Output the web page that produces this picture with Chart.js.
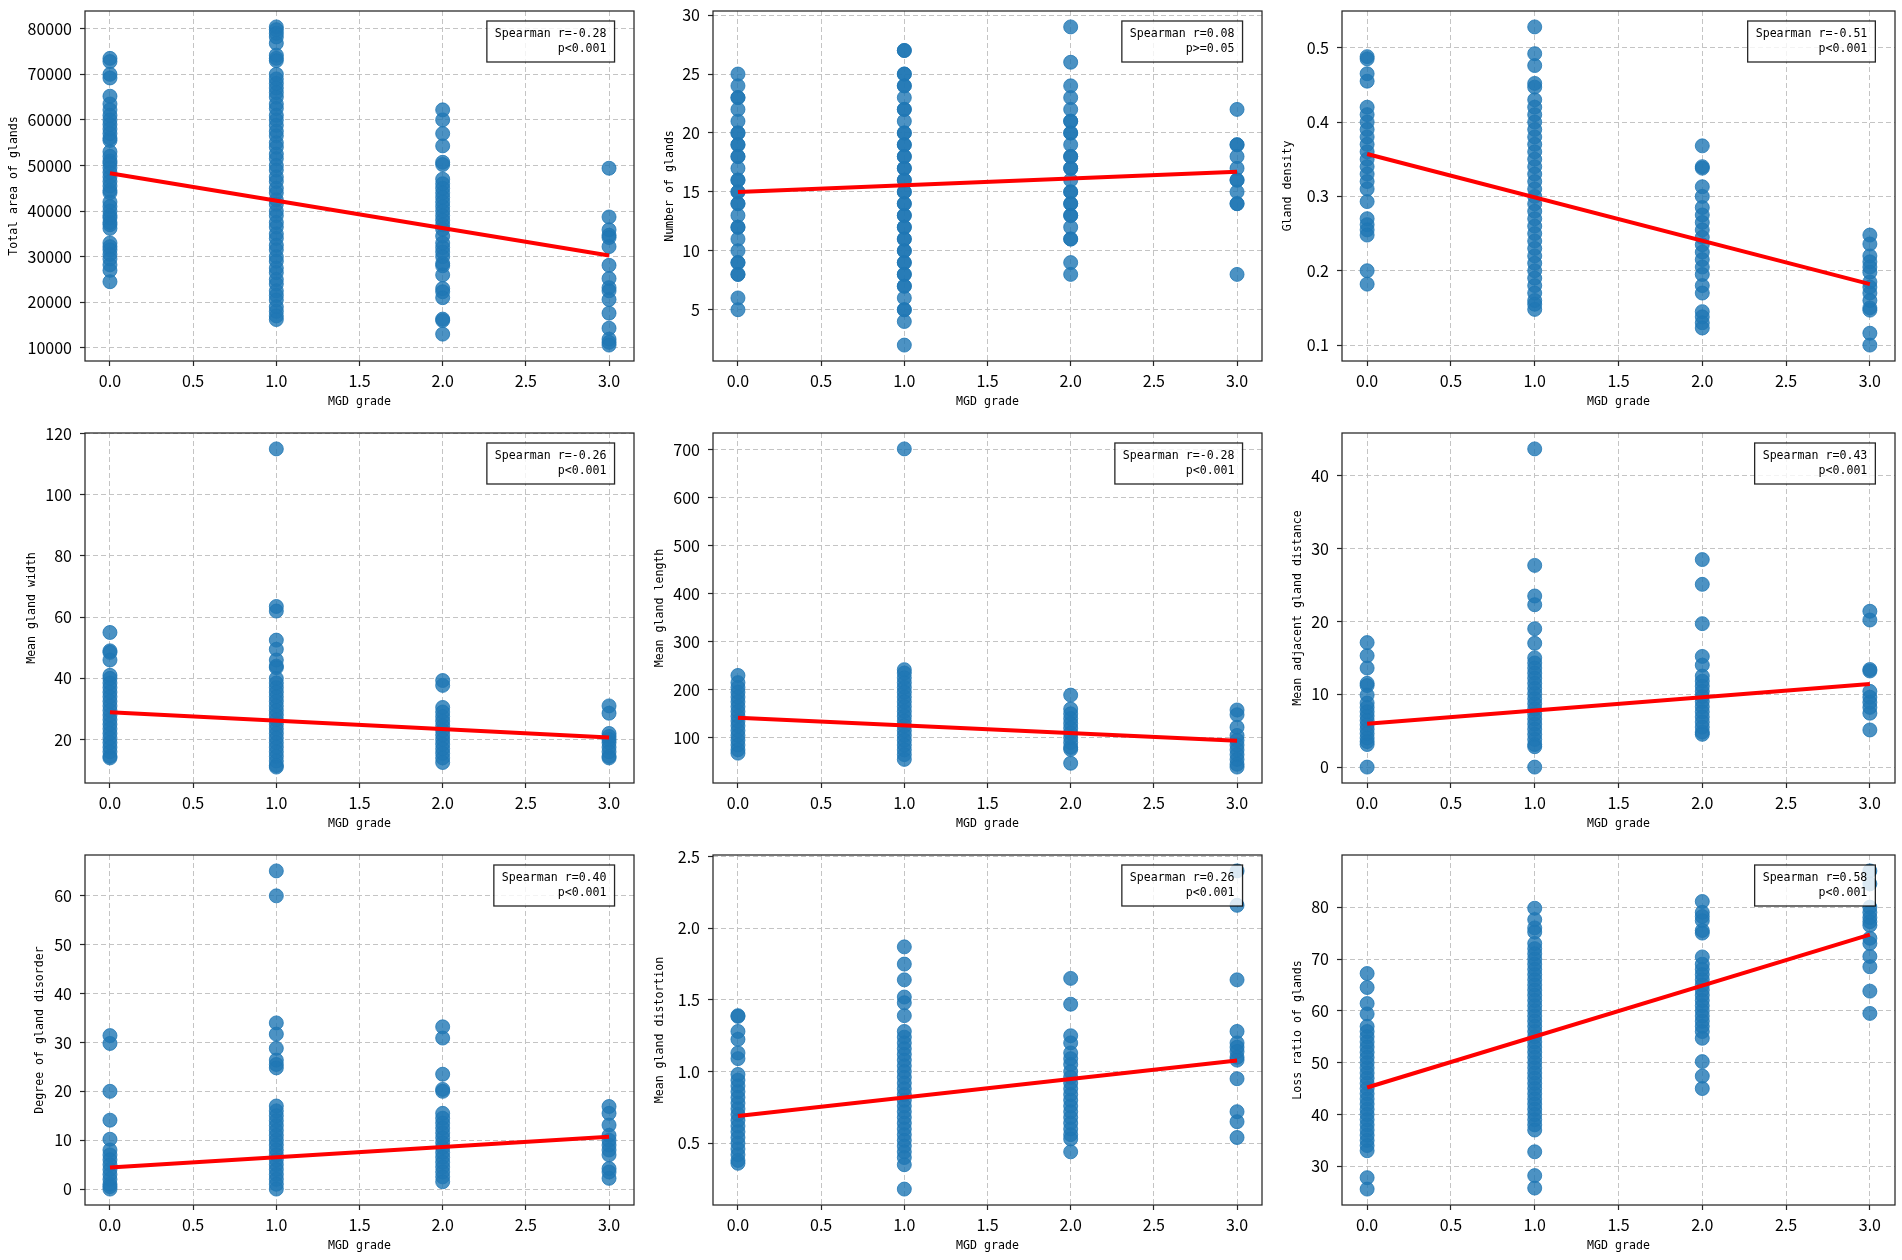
<!DOCTYPE html>
<html>
<head>
<meta charset="utf-8">
<title>MGD grade correlations</title>
<script src="https://cdn.jsdelivr.net/npm/chart.js@4.4.1/dist/chart.umd.min.js"></script>
<style>
  html, body { margin: 0; padding: 0; background: #fff; }
  body { width: 1902px; height: 1260px; position: relative; overflow: hidden; }
  .panel { position: absolute; }
</style>
</head>
<body>
<script>
// --- DATA (one list per MGD grade 0,1,2,3) ---
const grades = [0, 1, 2, 3];
const xTickValues = [0, 0.5, 1, 1.5, 2, 2.5, 3];

const totalArea = [
    [73500, 72800, 70000, 69200, 65200, 63500, 62200, 61000, 60000, 59000, 58000, 57000, 56000, 55500, 53000, 52000, 51000, 50500, 49500, 48500, 47500, 46500, 45500, 44500, 44000, 42000, 41000, 40000, 39000, 38500, 37500, 37000, 36200, 33000, 32200, 31500, 30500, 29500, 28200, 27000, 24500],
    [80400, 79800, 79000, 78200, 76800, 74200, 73500, 73000, 70000, 69000, 68000, 67000, 66000, 65000, 63500, 62500, 61000, 60000, 58800, 57500, 56500, 55000, 54000, 52500, 51500, 50000, 49000, 47500, 46500, 45000, 44000, 42500, 41500, 40000, 39000, 37500, 36500, 35000, 34000, 32500, 31500, 30000, 29000, 27500, 26500, 25000, 24000, 22500, 21500, 20500, 19000, 18000, 17000, 16200],
    [62200, 60000, 57000, 54300, 50700, 50200, 47000, 46000, 45000, 44000, 43000, 42000, 41000, 40000, 39000, 38000, 37000, 36000, 34500, 33000, 32000, 31000, 30000, 28500, 28000, 26000, 23000, 22300, 21000, 16300, 16000, 13000],
    [49400, 38700, 35900, 34700, 34200, 32200, 28100, 25200, 23200, 22500, 20600, 17600, 14300, 11900, 11200, 10600]
];
const glandCount = [
    [25, 24, 23, 23, 22, 21, 20, 20, 19, 19, 18, 18, 17, 16, 16, 15, 15, 14, 14, 13, 12, 12, 11, 10, 9, 9, 8, 8, 6, 5],
    [27, 27, 25, 25, 24, 24, 23, 22, 22, 21, 20, 20, 19, 19, 18, 18, 17, 17, 16, 16, 15, 15, 14, 14, 13, 13, 12, 12, 11, 11, 10, 10, 9, 9, 8, 8, 7, 7, 6, 5, 5, 4, 2],
    [29, 26, 24, 23, 22, 21, 21, 20, 20, 19, 18, 18, 17, 17, 16, 15, 15, 14, 14, 13, 13, 12, 11, 11, 9, 8],
    [22, 19, 19, 18, 17, 16, 16, 15, 14, 14, 8]
];
const glandDensity = [
    [0.488, 0.485, 0.465, 0.455, 0.42, 0.41, 0.40, 0.39, 0.38, 0.37, 0.36, 0.35, 0.34, 0.33, 0.32, 0.31, 0.293, 0.27, 0.262, 0.255, 0.248, 0.20, 0.182],
    [0.528, 0.492, 0.476, 0.452, 0.447, 0.43, 0.42, 0.41, 0.40, 0.39, 0.38, 0.37, 0.36, 0.35, 0.34, 0.33, 0.32, 0.31, 0.30, 0.29, 0.28, 0.27, 0.26, 0.25, 0.24, 0.23, 0.22, 0.21, 0.20, 0.19, 0.18, 0.17, 0.16, 0.155, 0.148],
    [0.368, 0.34, 0.338, 0.313, 0.30, 0.285, 0.275, 0.265, 0.255, 0.245, 0.235, 0.225, 0.215, 0.205, 0.195, 0.18, 0.17, 0.145, 0.138, 0.13, 0.123],
    [0.248, 0.236, 0.22, 0.212, 0.205, 0.198, 0.185, 0.178, 0.17, 0.16, 0.15, 0.147, 0.116, 0.10]
];
const glandWidth = [
    [55, 49, 48.5, 46, 41, 40, 38.5, 37, 35.5, 34, 32.5, 31, 29.5, 28, 26.5, 25, 23.5, 22, 20.5, 19, 17.5, 16, 14.5, 14],
    [115, 63.5, 62, 52.5, 49.5, 46, 44, 43.5, 40, 38.5, 37, 35.5, 34, 32.5, 31, 29.5, 28, 26.5, 25, 23.5, 22, 20.5, 19, 17.5, 16, 14.5, 13, 11.5, 11],
    [39.3, 37.7, 30.5, 29, 27.5, 26, 24.5, 23, 21.5, 20, 18.5, 17, 15.5, 14, 12.5],
    [31, 28.6, 22, 21, 20, 19, 17.5, 16, 14.5, 14]
];
const glandLength = [
    [230, 215, 205, 195, 185, 175, 165, 155, 145, 135, 125, 115, 105, 95, 85, 75, 68],
    [702, 242, 235, 225, 215, 205, 195, 185, 175, 165, 155, 145, 135, 125, 115, 105, 95, 85, 75, 65, 55],
    [189, 160, 150, 140, 130, 120, 110, 100, 90, 80, 76, 47],
    [158, 148, 122, 105, 95, 85, 75, 65, 55, 45, 39]
];
const glandDistance = [
    [17.1, 15.3, 13.6, 11.5, 11.2, 9.9, 8.8, 8.2, 7.6, 7, 6.4, 5.8, 5.2, 4.6, 4, 3.5, 3.1, 0],
    [43.7, 27.7, 23.5, 22.3, 19, 17, 15, 14.3, 13.6, 12.9, 12.2, 11.5, 10.8, 10.1, 9.4, 8.7, 8, 7.3, 6.6, 5.9, 5.2, 4.5, 3.8, 3.1, 2.8, 0],
    [28.5, 25.1, 19.7, 15.2, 14, 12.5, 11.8, 11.1, 10.4, 9.7, 9, 8.3, 7.6, 6.9, 6.2, 5.5, 4.8, 4.5],
    [21.4, 20.2, 13.4, 13.2, 10.4, 9.6, 8.9, 8.2, 7.4, 5.1]
];
const glandDisorder = [
    [31.4, 29.8, 20, 14.1, 10.2, 8, 7, 6, 5, 4, 3, 2, 1, 0.5, 0],
    [65.1, 60, 34, 31.7, 28.8, 26.4, 25.5, 24.8, 17, 16, 15, 14, 13, 12, 11, 10, 9, 8, 7, 6, 5, 4, 3, 2, 1, 0],
    [33.2, 30.9, 23.5, 20.4, 20, 15.5, 14.5, 13.5, 12.5, 11.5, 10.5, 9.5, 8.5, 7.5, 6.5, 5.5, 4.5, 3.5, 2.5, 1.5],
    [16.9, 15.5, 13.1, 11, 10, 9, 8, 7, 4.2, 3.5, 2.2]
];
const glandDistortion = [
    [1.39, 1.385, 1.28, 1.225, 1.13, 1.09, 0.98, 0.94, 0.9, 0.86, 0.82, 0.78, 0.74, 0.7, 0.66, 0.62, 0.58, 0.54, 0.5, 0.46, 0.42, 0.38, 0.36],
    [1.87, 1.75, 1.64, 1.52, 1.48, 1.39, 1.28, 1.24, 1.2, 1.16, 1.12, 1.08, 1.04, 1.0, 0.96, 0.92, 0.88, 0.84, 0.8, 0.76, 0.72, 0.68, 0.64, 0.6, 0.56, 0.52, 0.48, 0.44, 0.4, 0.35, 0.18],
    [1.65, 1.47, 1.25, 1.2, 1.13, 1.09, 1.05, 1.0, 0.96, 0.92, 0.88, 0.84, 0.8, 0.76, 0.72, 0.68, 0.64, 0.6, 0.56, 0.53, 0.44],
    [2.4, 2.16, 1.64, 1.28, 1.2, 1.17, 1.14, 1.1, 1.08, 0.95, 0.72, 0.65, 0.54]
];
const lossRatio = [
    [67.2, 64.5, 61.4, 59.4, 57, 56, 55, 54, 53, 52, 51, 50, 49, 48, 47, 46, 45, 44, 43, 42, 41, 40, 39, 38, 37, 36, 35, 34, 33, 27.8, 25.6],
    [79.8, 77.6, 76, 75.2, 73, 72, 71, 70, 69, 68, 67, 66, 65, 64, 63, 62, 61, 60, 59, 58, 57, 56, 55, 54, 53, 52, 51, 50, 49, 48, 47, 46, 45, 44, 43, 42, 41, 40, 39, 38, 37, 32.8, 28.2, 25.8],
    [81.1, 79, 78.2, 77.4, 75.5, 75, 70.4, 69, 68, 67, 66, 65, 64, 63, 62, 61, 60, 59, 58, 57, 56, 54.7, 50.2, 47.4, 45],
    [87, 84.5, 80, 79, 78, 77.2, 76.5, 74, 73, 70.5, 68.5, 63.8, 59.5]
];

const series = [totalArea, glandCount, glandDensity, glandWidth, glandLength, glandDistance, glandDisorder, glandDistortion, lossRatio];

const yTitles = ['Total area of glands', 'Number of glands', 'Gland density',
    'Mean gland width', 'Mean gland length', 'Mean adjacent gland distance',
    'Degree of gland disorder', 'Mean gland distortion', 'Loss ratio of glands'];
const spearmanR = ['-0.28', '0.08', '-0.51', '-0.26', '-0.28', '0.43', '0.40', '0.26', '0.58'];
const pLabels = ['p<0.001', 'p>=0.05', 'p<0.001', 'p<0.001', 'p<0.001', 'p<0.001', 'p<0.001', 'p<0.001', 'p<0.001'];

// fitted line value at grade 0 and at grade 3
const fitAtGrade0 = [48300, 15.0, 0.357, 28.95, 142, 5.95, 4.4, 0.69, 45.2];
const fitAtGrade3 = [30250, 16.7, 0.182, 20.7, 94, 11.4, 10.7, 1.077, 74.7];

const yTickValues = [
    [10000, 20000, 30000, 40000, 50000, 60000, 70000, 80000],
    [5, 10, 15, 20, 25, 30],
    [0.1, 0.2, 0.3, 0.4, 0.5],
    [20, 40, 60, 80, 100, 120],
    [100, 200, 300, 400, 500, 600, 700],
    [0, 10, 20, 30, 40],
    [0, 10, 20, 30, 40, 50, 60],
    [0.5, 1.0, 1.5, 2.0, 2.5],
    [30, 40, 50, 60, 70, 80]
];
const yDecimals = [0, 0, 1, 0, 0, 0, 0, 1, 0];

// --- LAYOUT ---
const PLOT_LEFT = [85, 713, 1342];
const PLOT_TOP = [11, 433, 855];
const PLOT_W = [551, 551, 555];
const PLOT_H = 350;
const Y_TITLE_GAP = [71, 43, 54, 53, 53, 44, 45, 53, 44];
const PAD_TOP = 22, PAD_RIGHT = 6, PAD_BOTTOM = 4, X_AXIS_H = 48;

const DOT = 'rgba(31, 119, 180, 0.8)';
const SMALL_FONT = { family: "'DejaVu Sans Mono', monospace", size: 11.6 };
const TICK_FONT = { family: "'Noto Sans CJK SC', 'Noto Sans', sans-serif", size: 16 };

function paddedRange(values) {
    const lo = Math.min(...values), hi = Math.max(...values);
    const m = (hi - lo) * 0.05;
    return [lo - m, hi + m];
}

// frame, fitted line above the grid, and the Spearman box
const statBoxPlugin = {
    id: 'statBox',
    beforeDatasetDraw(chart, args) {
        if (args.index === 1) return false;
    },
    afterDraw(chart, args, opts) {
        const { ctx, chartArea: a } = chart;
        ctx.save();
        ctx.strokeStyle = '#262626';
        ctx.lineWidth = 1.25;
        ctx.strokeRect(a.left, a.top, a.right - a.left, a.bottom - a.top);
        ctx.restore();

        chart.getDatasetMeta(1).controller.draw();

        ctx.save();
        ctx.font = `${SMALL_FONT.size}px ${SMALL_FONT.family}`;
        const right = a.left + (a.right - a.left) * 0.95;
        const tw = Math.max(...opts.lines.map(l => ctx.measureText(l).width));
        const bx = right - tw - 8, by = a.top + 10;
        ctx.fillStyle = 'rgba(255,255,255,0.8)';
        ctx.fillRect(bx, by, tw + 16, 41);
        ctx.strokeStyle = 'rgba(0,0,0,0.85)';
        ctx.lineWidth = 1.3;
        ctx.strokeRect(bx, by, tw + 16, 41);
        ctx.fillStyle = '#000';
        ctx.textAlign = 'right';
        ctx.textBaseline = 'middle';
        ctx.fillText(opts.lines[0], right, a.top + 22.5);
        ctx.fillText(opts.lines[1], right, a.top + 37.5);
        ctx.restore();
    }
};

function makePanel(i) {
    const col = i % 3, row = Math.floor(i / 3);
    const yAxisW = Y_TITLE_GAP[i] + 7;
    const width = yAxisW + PLOT_W[col] + PAD_RIGHT;
    const height = PAD_TOP + PLOT_H + X_AXIS_H + PAD_BOTTOM;

    const box = document.createElement('div');
    box.className = 'panel';
    box.style.left = (PLOT_LEFT[col] - yAxisW) + 'px';
    box.style.top = (PLOT_TOP[row] - PAD_TOP) + 'px';
    const canvas = document.createElement('canvas');
    canvas.width = width;
    canvas.height = height;
    box.appendChild(canvas);
    document.body.appendChild(box);

    const points = [];
    series[i].forEach((group, g) => group.forEach(v => points.push({ x: grades[g], y: v })));
    const [yMin, yMax] = paddedRange(series[i].flat());
    const [xMin, xMax] = paddedRange(grades);

    const gridOpts = {
        color: '#c4c4c4', lineWidth: 1,
        tickLength: 5, tickColor: '#262626', tickWidth: 1.2, tickBorderDash: []
    };

    new Chart(canvas, {
        type: 'scatter',
        data: {
            datasets: [{
                data: points,
                pointRadius: 7,
                pointBackgroundColor: DOT,
                pointBorderColor: DOT,
                pointBorderWidth: 1
            }, {
                type: 'line',
                data: [{ x: grades[0], y: fitAtGrade0[i] }, { x: grades[3], y: fitAtGrade3[i] }],
                showLine: true,
                borderColor: '#ff0000',
                borderWidth: 4,
                pointRadius: 0,
                fill: false
            }]
        },
        options: {
            responsive: false,
            animation: false,
            events: [],
            layout: { padding: { top: PAD_TOP, right: PAD_RIGHT, bottom: PAD_BOTTOM, left: 0 } },
            plugins: {
                legend: { display: false },
                tooltip: { enabled: false },
                statBox: { lines: ['Spearman r=' + spearmanR[i], pLabels[i]] }
            },
            scales: {
                x: {
                    type: 'linear', min: xMin, max: xMax, z: 1,
                    afterBuildTicks: s => { s.ticks = xTickValues.map(v => ({ value: v })); },
                    afterFit: s => { s.height = X_AXIS_H; },
                    ticks: { callback: v => v.toFixed(1), font: TICK_FONT, color: '#000', padding: 5, maxRotation: 0, autoSkip: false },
                    grid: gridOpts,
                    border: { display: false, dash: [5, 3] },
                    title: { display: true, text: 'MGD grade', font: SMALL_FONT, color: '#000', padding: 0 }
                },
                y: {
                    type: 'linear', min: yMin, max: yMax, z: 1,
                    afterBuildTicks: s => { s.ticks = yTickValues[i].map(v => ({ value: v })); },
                    afterFit: s => { s.width = yAxisW; },
                    ticks: { callback: v => v.toFixed(yDecimals[i]), font: TICK_FONT, color: '#000', padding: 8, autoSkip: false },
                    grid: gridOpts,
                    border: { display: false, dash: [5, 3] },
                    title: { display: true, text: yTitles[i], font: SMALL_FONT, color: '#000', padding: 0 }
                }
            }
        },
        plugins: [statBoxPlugin]
    });
}

for (let i = 0; i < series.length; i++) makePanel(i);
</script>
</body>
</html>
